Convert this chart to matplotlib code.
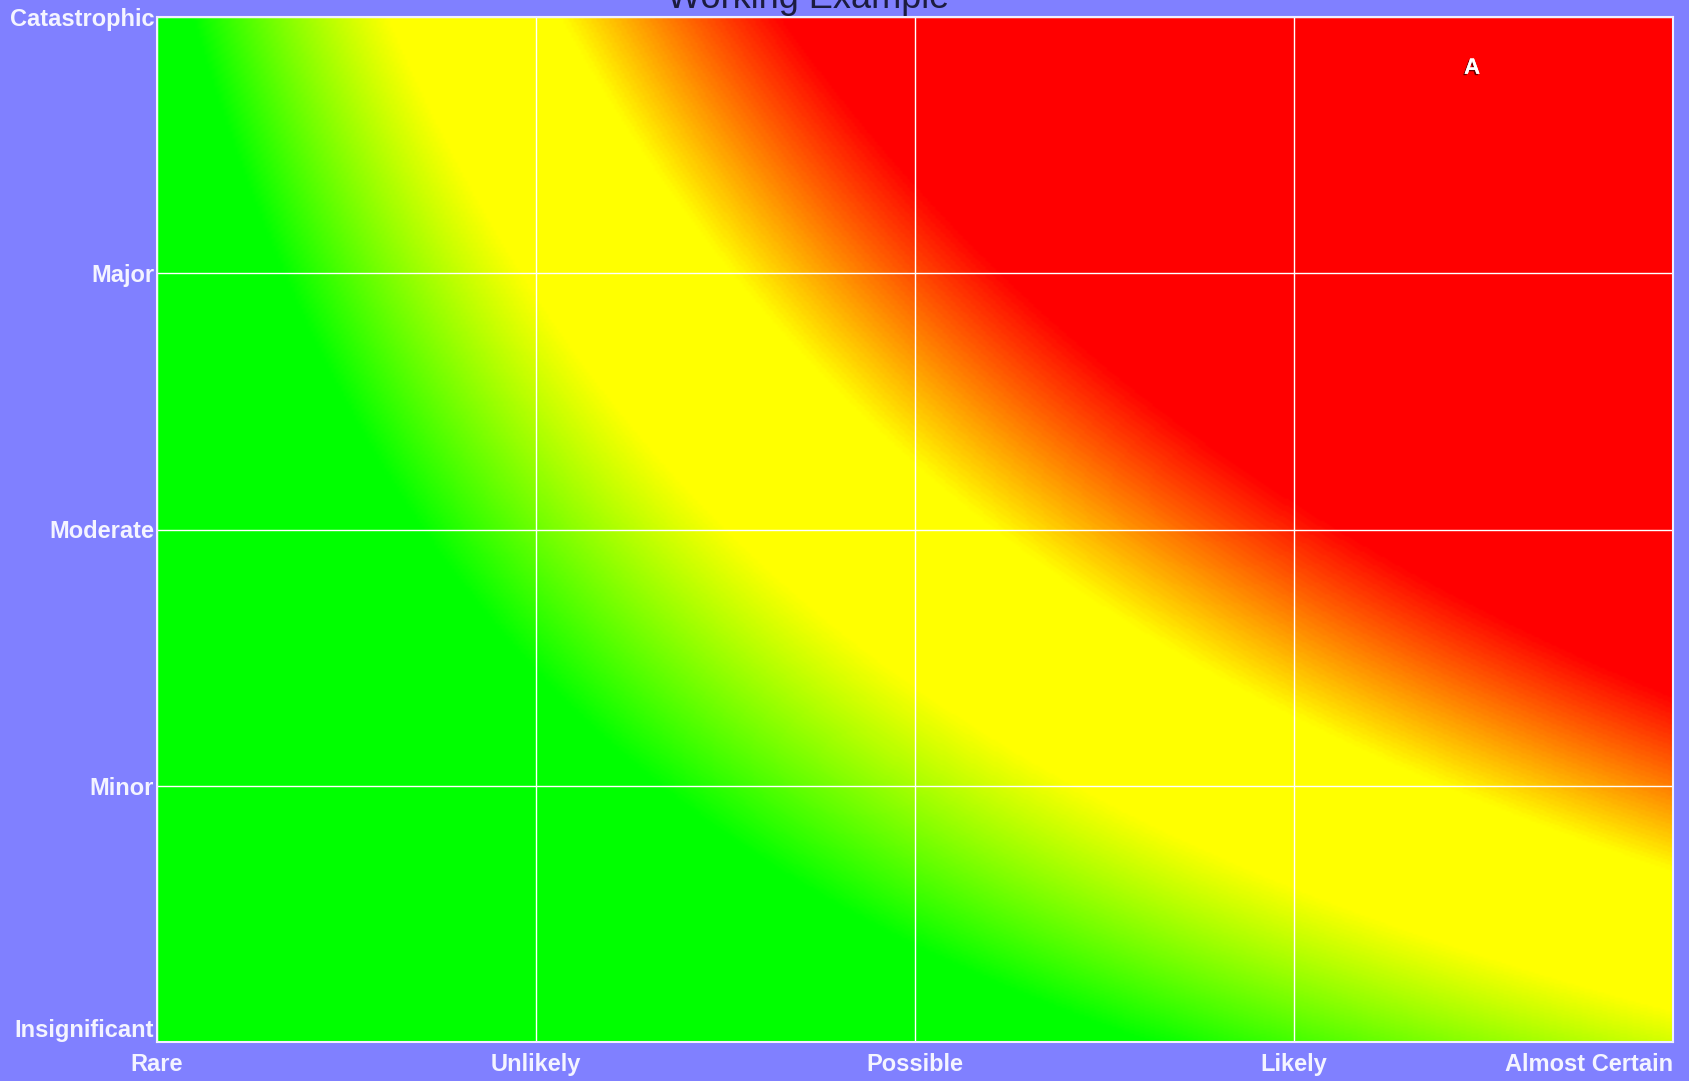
import numpy as np
import matplotlib.pyplot as plt
import matplotlib.patheffects as pe
from matplotlib.colors import ListedColormap

# axis categories
likelihood = ['Rare', 'Unlikely', 'Possible', 'Likely', 'Almost Certain']
consequence = ['Insignificant', 'Minor', 'Moderate', 'Major', 'Catastrophic']

# plotted risks
risk_ids = ['A']
risk_likelihood = [4.47]
risk_consequence = [4.8]

# paint scale: risk score where the colour changes
green_end = 2.04
yellow_start = 2.43
yellow_end = 2.68
red_start = 2.93
score_max = 3.6
consequence_weight = 1.09
consequence_offset = 1.0

plt.rcParams['font.family'] = ['Liberation Sans', 'DejaVu Sans']

fig = plt.figure(figsize=(16.9, 10.81), dpi=100, facecolor='#8080ff')
ax = fig.add_axes([157 / 1690, 39 / 1081, (1673 - 157) / 1690, (1042 - 17) / 1081])

# score surface over likelihood x consequence
lx = np.linspace(1, 5, 600)
cy = np.linspace(1, 5, 600)
LX, CY = np.meshgrid(lx, cy)
score = np.log(LX) + consequence_weight * np.log(CY + consequence_offset)

# green -> yellow -> red scale
t = np.linspace(0, score_max, 512)
r = np.clip((t - green_end) / (yellow_start - green_end), 0, 1)
g = 1 - np.clip((t - yellow_end) / (red_start - yellow_end), 0, 1)
cmap = ListedColormap(np.column_stack([r, g, np.zeros_like(t)]))

ax.imshow(score, extent=(1, 5, 1, 5), origin='lower', aspect='auto',
          cmap=cmap, vmin=0, vmax=score_max, interpolation='bilinear')

ax.set_xlim(1, 5)
ax.set_ylim(1, 5)
ax.set_xticks(range(1, len(likelihood) + 1))
ax.set_xticklabels(likelihood)
ax.set_yticks(range(1, len(consequence) + 1))
ax.set_yticklabels(consequence)
ax.tick_params(length=0, labelsize=17, labelcolor='#f4f4ff')
ax.tick_params(axis='x', pad=8)
ax.tick_params(axis='y', pad=2)
for lab in ax.get_xticklabels() + ax.get_yticklabels():
    lab.set_fontweight('bold')
ax.get_yticklabels()[0].set_va('bottom')
ax.get_xticklabels()[-1].set_ha('right')

ax.grid(True, color='white', linewidth=1)
for sp in ax.spines.values():
    sp.set_color('#f0f0ff')
    sp.set_linewidth(1.5)

for rid, rx, ry in zip(risk_ids, risk_likelihood, risk_consequence):
    ax.text(rx, ry, rid, color='white', fontsize=16, fontweight='bold',
            ha='center', va='center',
            path_effects=[pe.withSimplePatchShadow(offset=(-1, -1), shadow_rgbFace='#500000', alpha=0.9),
                          pe.Normal()])

fig.text(0.478, 1 - 7.5 / 1081, 'Working Example', ha='center', va='baseline',
         fontsize=26, color='#1c1c40')

fig.savefig('out.png', dpi=100, facecolor=fig.get_facecolor())
